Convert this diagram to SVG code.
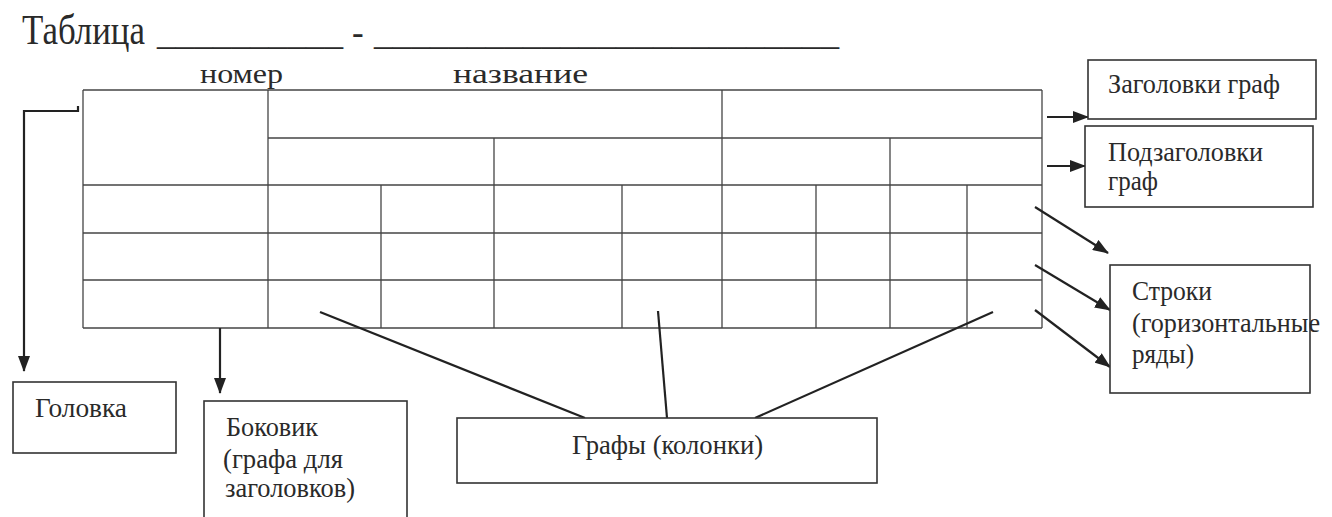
<svg xmlns="http://www.w3.org/2000/svg" width="1332" height="517" viewBox="0 0 1332 517">
<style>
text{font-family:"Liberation Serif","DejaVu Serif","Times New Roman",serif;fill:#2a2a2a}
.lbl{font-size:27px}
.grid line{stroke:#444;stroke-width:1.3}
.box{fill:#fff;stroke:#333;stroke-width:1.6}
.con{stroke:#222;stroke-width:2.2;fill:none}
</style>
<defs>
<marker id="ah" markerUnits="userSpaceOnUse" markerWidth="16" markerHeight="12" refX="15" refY="6" orient="auto">
<path d="M0,0 L16,6 L0,12 Z" fill="#222"/>
</marker>
</defs>
<rect width="1332" height="517" fill="#fff"/>
<g id="title">
<text x="22" y="44" font-size="42" textLength="123" lengthAdjust="spacingAndGlyphs">Таблица</text>
<text x="157" y="44" font-size="35" textLength="186" lengthAdjust="spacingAndGlyphs">__________</text>
<text x="352" y="44" font-size="35">-</text>
<text x="374" y="44" font-size="35" textLength="465" lengthAdjust="spacingAndGlyphs">_________________________</text>
<text x="200" y="83" font-size="28" textLength="83" lengthAdjust="spacingAndGlyphs">номер</text>
<text x="453" y="83" font-size="28" textLength="135" lengthAdjust="spacingAndGlyphs">название</text>
</g>
<g id="table" class="grid">
<line x1="83" y1="90" x2="1042" y2="90"/>
<line x1="268" y1="138" x2="1042" y2="138"/>
<line x1="83" y1="185" x2="1042" y2="185"/>
<line x1="83" y1="233" x2="1042" y2="233"/>
<line x1="83" y1="280" x2="1042" y2="280"/>
<line x1="83" y1="328" x2="1042" y2="328"/>
<line x1="83" y1="90" x2="83" y2="328"/>
<line x1="268" y1="90" x2="268" y2="328"/>
<line x1="381" y1="185" x2="381" y2="328"/>
<line x1="494" y1="138" x2="494" y2="328"/>
<line x1="622" y1="185" x2="622" y2="328"/>
<line x1="722" y1="90" x2="722" y2="328"/>
<line x1="816" y1="185" x2="816" y2="328"/>
<line x1="890" y1="138" x2="890" y2="328"/>
<line x1="967" y1="185" x2="967" y2="328"/>
<line x1="1042" y1="90" x2="1042" y2="328"/>
</g>
<g id="connectors">
<path class="con" d="M78,106 L78,111 L24,111 L24,371" marker-end="url(#ah)"/>
<line class="con" x1="220" y1="328" x2="220" y2="393" marker-end="url(#ah)"/>
<line class="con" x1="320" y1="312" x2="585" y2="418"/>
<line class="con" x1="658" y1="311" x2="667" y2="418"/>
<line class="con" x1="993" y1="312" x2="755" y2="418"/>
<line class="con" x1="1047" y1="117" x2="1088" y2="117" marker-end="url(#ah)"/>
<line class="con" x1="1047" y1="166" x2="1085" y2="166" marker-end="url(#ah)"/>
<line class="con" x1="1035" y1="207" x2="1108" y2="253" marker-end="url(#ah)"/>
<line class="con" x1="1035" y1="265" x2="1110" y2="310" marker-end="url(#ah)"/>
<line class="con" x1="1035" y1="310" x2="1110" y2="367" marker-end="url(#ah)"/>
</g>
<g id="zagolovki">
<rect class="box" x="1088" y="60" width="228" height="59"/>
<text class="lbl" x="1108" y="93" textLength="172" lengthAdjust="spacingAndGlyphs">Заголовки граф</text>
</g>
<g id="podzagolovki">
<rect class="box" x="1085" y="126" width="228" height="81"/>
<text class="lbl" x="1108" y="161" textLength="155" lengthAdjust="spacingAndGlyphs">Подзаголовки</text>
<text class="lbl" x="1108" y="190" textLength="50" lengthAdjust="spacingAndGlyphs">граф</text>
</g>
<g id="stroki">
<rect class="box" x="1110" y="265" width="200" height="128"/>
<text class="lbl" x="1132" y="300" textLength="80" lengthAdjust="spacingAndGlyphs">Строки</text>
<text class="lbl" x="1132" y="332" textLength="188" lengthAdjust="spacingAndGlyphs">(горизонтальные</text>
<text class="lbl" x="1132" y="363" textLength="62" lengthAdjust="spacingAndGlyphs">ряды)</text>
</g>
<g id="golovka">
<rect class="box" x="13" y="382" width="163" height="71"/>
<text class="lbl" x="35" y="417" textLength="92" lengthAdjust="spacingAndGlyphs">Головка</text>
</g>
<g id="bokovik">
<rect class="box" x="204" y="401" width="203" height="130"/>
<text class="lbl" x="226" y="436" textLength="92" lengthAdjust="spacingAndGlyphs">Боковик</text>
<text class="lbl" x="223" y="468" textLength="120" lengthAdjust="spacingAndGlyphs">(графа для</text>
<text class="lbl" x="225" y="497" textLength="130" lengthAdjust="spacingAndGlyphs">заголовков)</text>
</g>
<g id="grafy">
<rect class="box" x="457" y="418" width="420" height="65"/>
<text class="lbl" x="572" y="454" textLength="191" lengthAdjust="spacingAndGlyphs">Графы (колонки)</text>
</g>
</svg>
